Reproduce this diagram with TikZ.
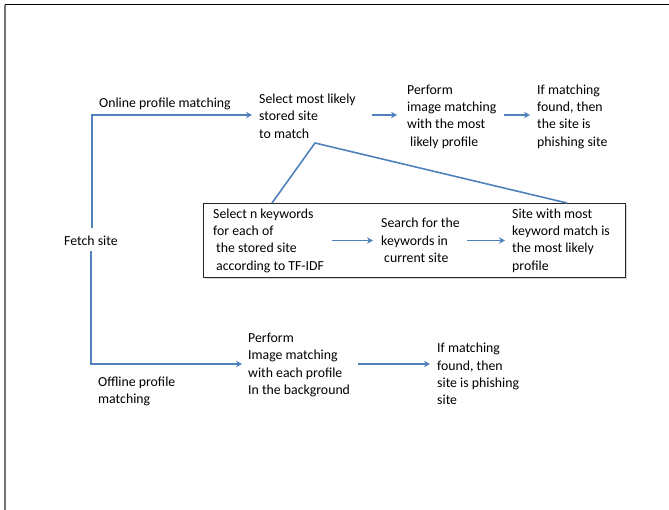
\documentclass[tikz,border=0pt]{standalone}
\usepackage{fontspec}
\setmainfont{Carlito}
\usetikzlibrary{arrows.meta}
\begin{document}
\begin{tikzpicture}[x=1pt,y=-1pt,
  txt/.style={align=left, inner sep=0pt, anchor=west, font=\fontsize{13.8}{17.3}\selectfont},
  flow/.style={draw={rgb,255:red,79;green,129;blue,189}, line width=1.6pt},
  arr/.style={flow, -{Stealth[length=6pt,width=6.5pt]}},
  boxst/.style={draw=black!85, line width=0.9pt, fill=white, inner sep=0pt, anchor=north west}
]
\useasboundingbox (0,0) rectangle (669,510);
% frame
\draw[black, line width=1pt] (5,5) -- (669,5);
\draw[black!55, line width=1.5pt] (5,5) -- (5,510);

% box with light shadow
\fill[black!15] (205,205) rectangle (627,279);
\node[boxst, minimum width=422pt, minimum height=74pt] (box) at (203,203) {};

% text nodes
\node[txt] (fetch) at (64,241) {Fetch site};
\node[txt] (online) at (99,104) {Online profile matching};
\node[txt] (sel) at (259,116) {Select most likely\\stored site\\to match};
\node[txt] (perf) at (407,116.5) {Perform\\image matching\\with the most\\\hspace*{3pt}likely profile};
\node[txt] (found) at (537,116.5) {If matching\\found, then\\the site is\\phishing site};
\node[txt] (tfidf) at (213,240.5) {Select n keywords\\for each of\\\hspace*{3pt}the stored site\\\hspace*{3pt}according to TF-IDF};
\node[txt] (search) at (381,240.5) {Search for the\\keywords in\\\hspace*{3pt}current site};
\node[txt] (mostl) at (512,240.5) {Site with most\\keyword match is\\the most likely\\profile};
\node[txt] (offline) at (98,391.5) {Offline profile\\matching};
\node[txt] (imgm) at (248,365) {Perform\\Image matching\\with each profile\\In the background};
\node[txt] (found2) at (437,374) {If matching\\found, then\\site is phishing\\site};

% coordinates
\coordinate (ftop) at (92,228);
\coordinate (c1) at (92,115);
\coordinate (fbot) at (91,251);
\coordinate (c2) at (91,364);
\coordinate (peak) at (315,143);
\coordinate (bl) at ([xshift=69pt]box.north west);
\coordinate (br) at ([xshift=-59pt]box.north east);

% connectors
\draw[arr, shorten >=7pt] (ftop) -- (c1) -- (c1 -| sel.west);
\draw[arr, shorten >=6pt] (fbot) -- (c2) -- (c2 -| imgm.west);
\draw[arr, shorten <=16pt, shorten >=10pt] (sel.east |- c1) -- (perf.west |- c1);
\draw[arr, shorten <=7pt, shorten >=7pt] (perf.east |- c1) -- (found.west |- c1);
\draw[flow] (bl) -- (peak) -- (br);
\draw[arr, shorten <=8pt, shorten >=8pt] (tfidf.east) -- (search.west);
\draw[arr, shorten <=7pt, shorten >=7pt] (search.east) -- (mostl.west);
\draw[arr, shorten <=8pt, shorten >=7pt] (imgm.east |- c2) -- (found2.west |- c2);
\end{tikzpicture}
\end{document}
